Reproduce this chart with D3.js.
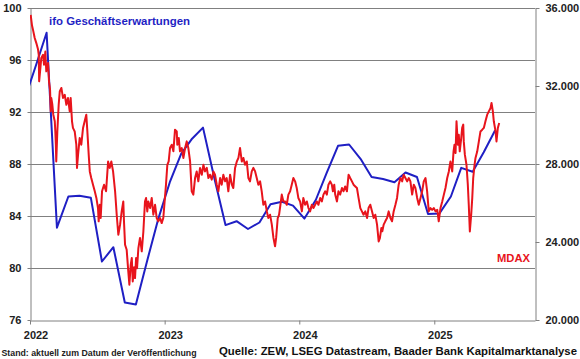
<!DOCTYPE html>
<html><head><meta charset="utf-8">
<script src="https://cdn.jsdelivr.net/npm/d3@7"></script>
<style>
html,body{margin:0;padding:0;background:#fff;}
svg{display:block;}
text{font-family:"Liberation Sans",Arial,sans-serif;font-weight:bold;}
</style>
</head><body>
<svg id="chart" width="580" height="359"></svg>
<script>
// ---------- DATA ----------
const yearTicks = ["2022","2023","2024","2025"];
const leftTicks = [76,80,84,88,92,96,100];
const rightTicks = [20000,24000,28000,32000,36000];

// ifo Geschäftserwartungen (monthly, left axis)
const ifoMonths = ["2021-12","2022-01","2022-02","2022-03","2022-04","2022-05","2022-06","2022-07","2022-08","2022-09","2022-10","2022-11","2022-12",
  "2023-01","2023-02","2023-03","2023-04","2023-05","2023-06","2023-07","2023-08","2023-09","2023-10","2023-11","2023-12",
  "2024-01","2024-02","2024-03","2024-04","2024-05","2024-06","2024-07","2024-08","2024-09","2024-10","2024-11","2024-12",
  "2025-01","2025-02","2025-03","2025-04","2025-05","2025-06"];
const ifoValues = [92.8,95.4,98.1,83.1,85.5,85.55,85.4,80.5,81.6,77.35,77.2,80.6,83.8,
  86.6,88.8,89.9,90.8,87.0,83.3,83.6,83.0,83.5,84.9,85.1,84.8,
  83.8,85.25,87.3,89.4,89.5,88.4,87.0,86.85,86.6,87.35,87.0,84.15,
  84.2,85.5,87.7,87.4,88.9,90.6];

// MDAX (decimal year, right axis)
const mdaxTime = [2022.005,2022.015,2022.022,2022.035,2022.047,2022.059,2022.065,2022.068,2022.084,2022.097,
 2022.104,2022.114,2022.121,2022.134,2022.141,2022.149,2022.154,2022.158,2022.166,2022.173,
 2022.184,2022.188,2022.192,2022.195,2022.203,2022.213,2022.221,2022.233,2022.245,2022.258,
 2022.270,2022.282,2022.295,2022.302,2022.312,2022.319,2022.332,2022.344,2022.349,2022.357,
 2022.369,2022.381,2022.394,2022.406,2022.418,2022.426,2022.436,2022.444,2022.455,2022.468,
 2022.481,2022.493,2022.505,2022.510,2022.518,2022.525,2022.535,2022.550,2022.565,2022.580,
 2022.592,2022.604,2022.617,2022.632,2022.639,2022.644,2022.656,2022.669,2022.681,2022.693,
 2022.698,2022.706,2022.718,2022.730,2022.738,2022.748,2022.756,2022.763,2022.773,2022.780,
 2022.788,2022.795,2022.805,2022.817,2022.830,2022.842,2022.854,2022.862,2022.871,2022.879,
 2022.892,2022.904,2022.916,2022.929,2022.941,2022.953,2022.966,2022.978,2022.990,2022.998,
 2023.010,2023.020,2023.030,2023.040,2023.053,2023.065,2023.077,2023.090,2023.094,2023.105,
 2023.114,2023.127,2023.139,2023.152,2023.164,2023.176,2023.189,2023.201,2023.213,2023.226,
 2023.238,2023.250,2023.263,2023.276,2023.288,2023.300,2023.313,2023.325,2023.337,2023.350,
 2023.362,2023.374,2023.387,2023.399,2023.412,2023.424,2023.436,2023.449,2023.461,2023.473,
 2023.486,2023.499,2023.510,2023.523,2023.536,2023.548,2023.560,2023.573,2023.585,2023.597,
 2023.610,2023.622,2023.634,2023.647,2023.659,2023.672,2023.684,2023.696,2023.709,2023.721,
 2023.733,2023.746,2023.759,2023.770,2023.783,2023.796,2023.808,2023.820,2023.828,2023.840,
 2023.850,2023.860,2023.870,2023.882,2023.895,2023.907,2023.919,2023.932,2023.944,2023.956,
 2023.969,2023.981,2023.993,2024.006,2024.019,2024.030,2024.043,2024.056,2024.068,2024.080,
 2024.093,2024.105,2024.117,2024.130,2024.142,2024.155,2024.167,2024.179,2024.192,2024.204,
 2024.216,2024.229,2024.241,2024.249,2024.259,2024.266,2024.279,2024.290,2024.303,2024.316,
 2024.328,2024.340,2024.353,2024.365,2024.377,2024.390,2024.402,2024.415,2024.427,2024.439,
 2024.452,2024.464,2024.476,2024.489,2024.502,2024.513,2024.526,2024.539,2024.551,2024.563,
 2024.576,2024.588,2024.597,2024.608,2024.615,2024.625,2024.637,2024.650,2024.662,2024.675,
 2024.687,2024.699,2024.712,2024.724,2024.736,2024.749,2024.762,2024.773,2024.786,2024.799,
 2024.811,2024.823,2024.836,2024.848,2024.860,2024.873,2024.885,2024.898,2024.910,2024.922,
 2024.935,2024.947,2024.959,2024.972,2024.984,2024.996,2025.009,2025.022,2025.033,2025.046,
 2025.059,2025.071,2025.083,2025.096,2025.108,2025.120,2025.133,2025.143,2025.150,2025.158,
 2025.165,2025.175,2025.182,2025.189,2025.200,2025.207,2025.215,2025.219,2025.227,2025.239,
 2025.249,2025.256,2025.264,2025.274,2025.282,2025.289,2025.299,2025.306,2025.319,2025.331,
 2025.343,2025.356,2025.368,2025.380,2025.393,2025.405,2025.418,2025.425,2025.435,2025.442,
 2025.455,2025.462,2025.472,2025.482];
const mdaxValues = [35650,35100,34890,34460,34200,33900,33600,32240,33440,33600,
 33090,33770,32750,33180,32240,31810,30700,31390,31040,30530,
 30190,29670,28990,28130,29670,31040,31720,31900,31390,31550,
 31040,31390,30700,31390,30190,29850,29670,28990,27800,28480,
 29330,28990,29850,30190,30530,29670,28480,27620,27280,26940,
 26600,26260,25740,25060,25910,25230,26600,26940,26600,28130,
 27800,28130,27620,26600,25910,25400,24370,24890,25570,26080,
 25060,23860,23600,22490,21810,22830,23180,21980,22700,22150,
 23180,22660,23690,24210,23520,24540,26080,26260,25570,26080,
 25740,26260,25400,25910,25230,25060,25230,24970,25230,25910,
 26940,27960,28130,28820,28990,28650,29760,29670,28990,29330,
 28650,28820,28310,28820,29160,28820,28130,26600,26430,27280,
 27620,27110,27800,27450,27960,27620,27800,27280,27450,27200,
 27620,27450,26940,26600,27280,26940,27450,27110,27280,26600,
 27450,26940,26770,27800,28130,28310,28820,28130,28310,27960,
 28130,27280,27110,27620,27800,27620,27280,26940,27110,26600,
 25910,26080,25570,25230,25400,24890,24210,23780,24210,25230,
 25400,25910,26430,26080,26080,25910,26430,26600,26940,27280,
 27110,26770,26260,26080,25570,26260,25910,26080,25740,25570,
 25910,25740,25910,26080,25910,26260,26080,26430,26600,26430,
 26940,27110,26940,26600,26940,26430,26080,26600,26430,26770,
 26600,26850,26600,27450,27280,27110,26940,26850,26770,26260,
 25740,25570,25400,25570,25230,25740,25910,25570,25230,25400,
 24890,24030,24200,24720,24550,24890,25060,25230,25570,25230,
 25060,25570,25910,26260,26940,27280,27110,27450,27280,27110,
 27280,27110,26430,26940,26770,26260,25910,26260,26600,27110,
 27280,26600,25570,25740,25650,25740,25570,25650,25060,25740,
 26080,26430,26770,27280,27620,28130,27620,28650,28990,28560,
 30190,28990,29500,28650,29330,29850,30020,29160,28480,27960,
 26940,25910,24540,25400,26260,27280,27960,28310,28650,29160,
 29670,29760,29850,30190,30530,30700,30870,31130,30700,30190,
 29670,29160,29850,30100];

// ---------- CHART ----------
const svg = d3.select("#chart");
svg.append("rect").attr("width",580).attr("height",359).attr("fill","#fff");

const L = 30, R = 535, T = 8, B = 320;
const x = d3.scaleTime().domain([new Date(2022,0,1), new Date(2025,9,1)]).range([L,R]);
const yL = d3.scaleLinear().domain([76,100]).range([B,T]);
const yR = d3.scaleLinear().domain([20000,36000]).range([B,T]);

function decYear(t){
  const y = Math.floor(t);
  const s = new Date(y,0,1), e = new Date(y+1,0,1);
  return new Date(+s + (t-y)*(e-s));
}
const de = d3.formatLocale({decimal:",", thousands:".", grouping:[3], currency:["","€"]});
const fmtR = de.format(",.0f");

const gridC = "#808080";
// gridlines
svg.append("g").selectAll("line").data(leftTicks.filter(d=>d>76)).join("line")
  .attr("x1",L).attr("x2",R).attr("y1",d=>Math.round(yL(d))+0.5).attr("y2",d=>Math.round(yL(d))+0.5)
  .attr("stroke",gridC).attr("stroke-width",1);

// axes
const gL = svg.append("g").attr("transform",`translate(${L+0.5},0)`)
  .call(d3.axisLeft(yL).tickValues(leftTicks).tickSize(3).tickSizeOuter(0).tickPadding(6).tickFormat(d3.format("d")));
const gR = svg.append("g").attr("transform",`translate(${R+0.5},0)`)
  .call(d3.axisRight(yR).tickValues(rightTicks).tickSize(4).tickSizeOuter(0).tickPadding(6).tickFormat(fmtR));
const gB = svg.append("g").attr("transform",`translate(0,${B+0.5})`)
  .call(d3.axisBottom(x).tickValues(yearTicks.map(s=>new Date(+s,0,1))).tickSize(4).tickSizeOuter(0).tickPadding(7).tickFormat(d3.timeFormat("%Y")));
[gL,gR,gB].forEach(g=>{
  g.selectAll("path.domain").attr("stroke",gridC);
  g.selectAll(".tick line").attr("stroke",gridC);
  g.selectAll("text").attr("font-size","11px").attr("fill","#222")
   .attr("font-family",'"Liberation Sans",Arial,sans-serif').attr("font-weight","bold");
});
gB.selectAll("text").attr("dx","5.5");

// clip
svg.append("clipPath").attr("id","plotclip").append("rect")
  .attr("x",L).attr("y",T-5).attr("width",R-L).attr("height",B-T+5);

// ifo line
const ifoData = ifoMonths.map((m,i)=>{const [yy,mm]=m.split("-").map(Number); return {d:new Date(yy,mm-1,15), v:ifoValues[i]};});
svg.append("path").datum(ifoData).attr("clip-path","url(#plotclip)")
  .attr("d",d3.line().x(d=>x(d.d)).y(d=>yL(d.v)))
  .attr("fill","none").attr("stroke","#1f1fc4").attr("stroke-width",2).attr("stroke-linejoin","round");

// MDAX line
const mdaxData = mdaxTime.map((t,i)=>({d:decYear(t), v:mdaxValues[i]}));
svg.append("path").datum(mdaxData).attr("clip-path","url(#plotclip)")
  .attr("d",d3.line().x(d=>x(d.d)).y(d=>yR(d.v)))
  .attr("fill","none").attr("stroke","#e8141c").attr("stroke-width",2).attr("stroke-linejoin","round");

// labels
svg.append("text").attr("x",49).attr("y",25).attr("font-size","11.5px").attr("fill","#1f1fc4")
  .attr("textLength",141).attr("lengthAdjust","spacingAndGlyphs").text("ifo Geschäftserwartungen");
svg.append("text").attr("x",497).attr("y",262).attr("font-size","11.5px").attr("fill","#e8141c")
  .attr("textLength",33).attr("lengthAdjust","spacingAndGlyphs").text("MDAX");
svg.append("text").attr("x",1.5).attr("y",356).attr("font-size","9.5px").attr("fill","#222")
  .attr("textLength",195).attr("lengthAdjust","spacingAndGlyphs").text("Stand: aktuell zum Datum der Veröffentlichung");
svg.append("text").attr("x",219).attr("y",354.5).attr("font-size","11.5px").attr("fill","#111")
  .attr("textLength",358).attr("lengthAdjust","spacingAndGlyphs").text("Quelle: ZEW, LSEG Datastream, Baader Bank Kapitalmarktanalyse");
</script>
</body></html>
